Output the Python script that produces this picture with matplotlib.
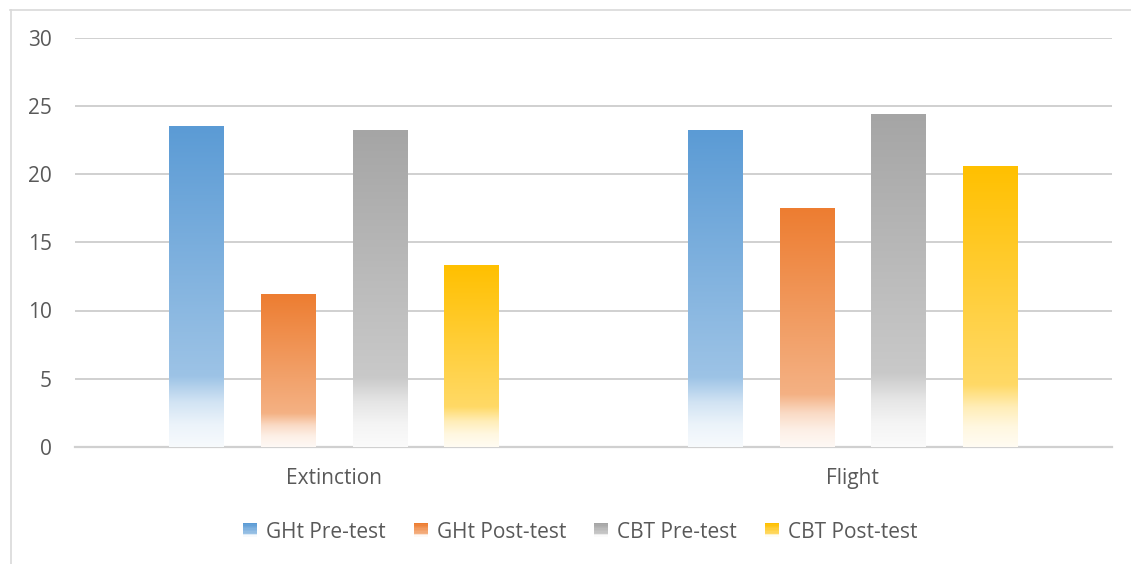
import numpy as np
import matplotlib
matplotlib.use("Agg")
import matplotlib.pyplot as plt
from matplotlib.colors import to_rgb
from matplotlib.patches import Rectangle
from matplotlib.legend_handler import HandlerBase

categories = ["Extinction", "Flight"]
series_names = ["GHt Pre-test", "GHt Post-test", "CBT Pre-test", "CBT Post-test"]
ght_pre = [23.5, 23.2]
ght_post = [11.2, 17.5]
cbt_pre = [23.2, 24.4]
cbt_post = [13.3, 20.6]
series_values = [ght_pre, ght_post, cbt_pre, cbt_post]
colors = ["#5B9BD5", "#ED7D31", "#A5A5A5", "#FFC000"]
yticks = [0, 5, 10, 15, 20, 25, 30]

FONT = ["Open Sans", "DejaVu Sans"]
TXT = "#595959"
FS = 15

# white-mix profile along bar (t=0 top, t=1 bottom)
t_knots = [0.0, 0.78, 0.86, 0.93, 1.0]
w_knots = [0.0, 0.40, 0.72, 0.88, 0.95]


def grad_image(color, n=256):
    t = np.linspace(0, 1, n)
    w = np.interp(t, t_knots, w_knots)
    c = np.array(to_rgb(color))
    rgb = c[None, :] * (1 - w[:, None]) + w[:, None]
    return rgb[:, None, :]


W, H = 1131, 564
fig = plt.figure(figsize=(W / 100, H / 100), dpi=100)
fig.patch.set_facecolor("white")

ax = fig.add_axes([75 / W, 1 - 447 / H, (1112 - 75) / W, (447 - 37.5) / H])
ax.set_xlim(-0.5, 1.5)
ax.set_ylim(0, 30)

x = np.arange(len(categories))
pitch = 0.1765
bw = 0.106
for i, (vals, col) in enumerate(zip(series_values, colors)):
    bars = ax.bar(x + (i - 1.5) * pitch, vals, width=bw, color="none",
                  edgecolor="none", zorder=3, label=series_names[i])
    img = grad_image(col)
    for b in bars:
        x0, y0 = b.get_x(), b.get_y()
        im = ax.imshow(img, extent=[x0, x0 + b.get_width(), y0, y0 + b.get_height()],
                       aspect="auto", zorder=3, interpolation="bilinear")
        im.set_clip_path(b)

ax.set_yticks(yticks)
ax.set_xticks(x)
ax.set_xticklabels(categories)
ax.grid(axis="y", color="#D0D0D0", linewidth=1.4, zorder=0)
ax.set_axisbelow(True)
for s in ["top", "right", "left"]:
    ax.spines[s].set_visible(False)
ax.spines["bottom"].set_color("#D0D0D0")
ax.spines["bottom"].set_linewidth(1.6)
ax.tick_params(axis="both", length=0, labelsize=FS, labelcolor=TXT)
ax.tick_params(axis="y", pad=16.5)
ax.tick_params(axis="x", pad=15)
for lab in ax.get_xticklabels() + ax.get_yticklabels():
    lab.set_family(FONT)


class GradHandler(HandlerBase):
    def __init__(self, color):
        super().__init__()
        self.color = color

    def create_artists(self, legend, orig_handle, xdescent, ydescent, width,
                       height, fontsize, trans):
        arts = []
        n = 10
        img = grad_image(self.color, n)
        sz = height * 0.95
        x0 = -xdescent + (width - sz)
        y0 = -ydescent + (height - sz) / 2
        for k in range(n):
            r = Rectangle((x0, y0 + sz * (n - 1 - k) / n), sz, sz / n + 0.3,
                          facecolor=img[k, 0], edgecolor="none", transform=trans)
            arts.append(r)
        return arts


handles = [Rectangle((0, 0), 1, 1, facecolor=c) for c in colors]
leg = fig.legend(handles, series_names, loc="center", bbox_to_anchor=(580 / W, 1 - 532 / H),
                 ncol=4, frameon=False, handlelength=0.7, handleheight=0.7,
                 handletextpad=0.45, columnspacing=1.3,
                 handler_map={h: GradHandler(c) for h, c in zip(handles, colors)},
                 prop={"family": FONT, "size": FS})
for t in leg.get_texts():
    t.set_color(TXT)

# outer chart border (top and left visible)
fig.add_artist(plt.Line2D([10 / W, 1.0], [1 - 9.5 / H, 1 - 9.5 / H], color="#D9D9D9",
                          linewidth=1.2, transform=fig.transFigure))
fig.add_artist(plt.Line2D([10.5 / W, 10.5 / W], [0, 1 - 9.5 / H], color="#D9D9D9",
                          linewidth=1.2, transform=fig.transFigure))

fig.savefig("out.png", dpi=100, facecolor="white")
